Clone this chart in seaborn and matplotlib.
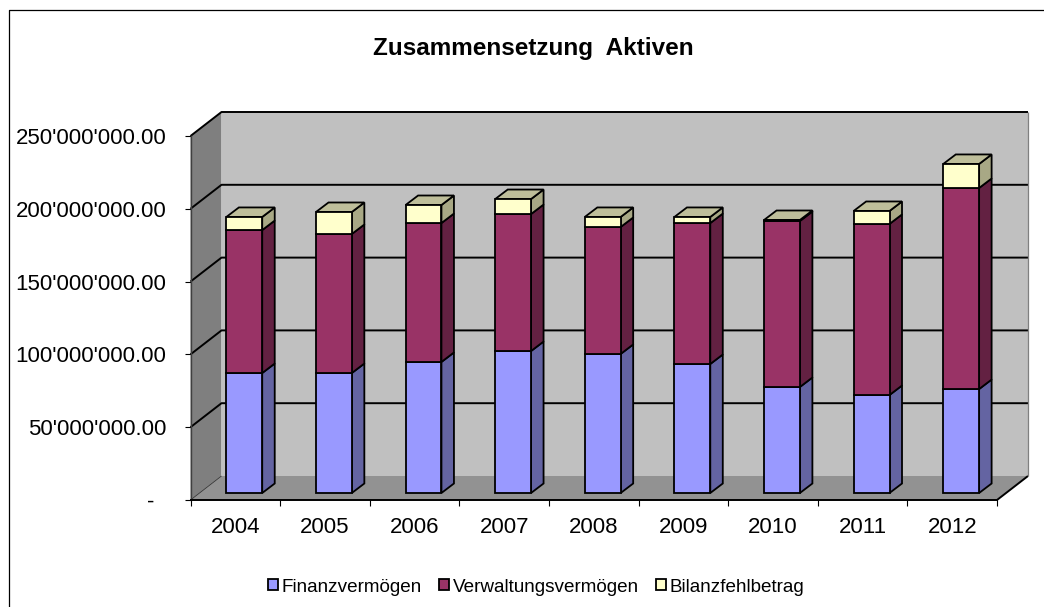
import numpy as np
import matplotlib
matplotlib.use('Agg')
import matplotlib.pyplot as plt
import seaborn as sns
from matplotlib.lines import Line2D
from matplotlib.patches import Polygon
from matplotlib.ticker import FixedLocator
from matplotlib.transforms import Affine2D, IdentityTransform

# values in CHF
years = ['2004', '2005', '2006', '2007', '2008', '2009', '2010', '2011', '2012']
finanz = [82.4e6, 82.4e6, 90.0e6, 97.5e6, 95.5e6, 88.6e6, 72.8e6, 67.3e6, 71.4e6]
verwaltung = [98.2e6, 95.5e6, 95.4e6, 94.1e6, 87.2e6, 96.8e6, 114.0e6, 117.5e6, 138.1e6]
bilanz = [9.0e6, 15.1e6, 12.4e6, 10.3e6, 6.9e6, 4.2e6, 0.7e6, 8.9e6, 16.5e6]
series_names = ['Finanzvermögen', 'Verwaltungsvermögen', 'Bilanzfehlbetrag']
y_ticks = [0, 50e6, 100e6, 150e6, 200e6, 250e6]
y_labels = ['-  ', "50'000'000.00", "100'000'000.00", "150'000'000.00", "200'000'000.00", "250'000'000.00"]

front_colors = ['#9999FF', '#993366', '#FFFFCC']
side_colors = ['#6464A2', '#632142', '#A8A885']
top_color = '#BEBE9A'

W, H = 1044, 607
EDGE = 1.3
sns.set_style('white')
plt.rcParams['font.family'] = ['Liberation Sans', 'DejaVu Sans']

fig = plt.figure(figsize=(W / 100, H / 100), dpi=100)
ax = fig.add_axes([190.5 / W, 1 - 500 / H, (997 - 190.5) / W, (500 - 136) / H])
ax.patch.set_visible(False)

# stacked front faces
bottom = np.zeros(len(years))
layers = []
for name, vals, col in zip(series_names, [finanz, verwaltung, bilanz], front_colors):
    vals = np.array(vals)
    before = len(ax.patches)
    sns.barplot(x=years, y=vals, bottom=bottom, color=col, saturation=1, width=0.4,
                errorbar=None, edgecolor='black', linewidth=EDGE, label=name, ax=ax)
    layers.append(ax.patches[before:])
    bottom = bottom + vals

ax.set_xlim(-0.5, 8.5)
ax.set_ylim(0, 250e6)

# pseudo 3D: offsets in pixels
wall_dx, wall_dy = 31, 24
bar_dx, bar_dy = 9, 7
side_dx, side_dy = 12.5, 9.5


def px(x, y, dx=0, dy=0):
    p = ax.transData.transform((x, y))
    return (p[0] + dx, p[1] + dy)


def poly(points, color, z, edge='none', lw=0):
    ax.add_patch(Polygon(points, closed=True, facecolor=color, edgecolor=edge, linewidth=lw,
                         transform=IdentityTransform(), clip_on=False, zorder=z))


def line(points, color='black', lw=1.1, z=0.6):
    xs, ys = zip(*points)
    ax.add_line(Line2D(xs, ys, color=color, lw=lw, transform=IdentityTransform(),
                       clip_on=False, zorder=z, solid_capstyle='butt'))


x0, x1 = ax.get_xlim()
y0, y1 = ax.get_ylim()

# walls and floor
poly([px(x0, y0, wall_dx, wall_dy), px(x1, y0, wall_dx, wall_dy),
      px(x1, y1, wall_dx, wall_dy), px(x0, y1, wall_dx, wall_dy)], '#C0C0C0', 0.3)
poly([px(x0, y0), px(x0, y1), px(x0, y1, wall_dx, wall_dy), px(x0, y0, wall_dx, wall_dy)], '#7F7F7F', 0.4)
poly([px(x0, y0), px(x1, y0), px(x1, y0, wall_dx, wall_dy), px(x0, y0, wall_dx, wall_dy)], '#929292', 0.4)

for t in y_ticks[1:]:
    line([px(x0, t), px(x0, t, wall_dx, wall_dy), px(x1, t, wall_dx, wall_dy)], lw=1.4)
line([px(x0, y0), px(x0, y0, wall_dx, wall_dy)], color='#222222', lw=0.5)
line([px(x1, y0), px(x1, y0, wall_dx, wall_dy)], lw=1.4)
line([px(x1, y0, wall_dx, wall_dy), px(x1, y1, wall_dx, wall_dy)], color='#808080', lw=0.9)

# bar sides and tops
shift = ax.transData + Affine2D().translate(bar_dx, bar_dy)
for i, bars in enumerate(layers):
    for b in bars:
        left, right = b.get_x(), b.get_x() + b.get_width()
        lo, hi = b.get_y(), b.get_y() + b.get_height()
        b.set_transform(shift)
        b.set_clip_on(False)
        b.set_zorder(3)
        poly([px(right, lo, bar_dx, bar_dy), px(right, hi, bar_dx, bar_dy),
              px(right, hi, bar_dx + side_dx, bar_dy + side_dy),
              px(right, lo, bar_dx + side_dx, bar_dy + side_dy)],
             side_colors[i], 2, edge='black', lw=EDGE)
        if i == len(layers) - 1:
            poly([px(left, hi, bar_dx, bar_dy), px(right, hi, bar_dx, bar_dy),
                  px(right, hi, bar_dx + side_dx, bar_dy + side_dy),
                  px(left, hi, bar_dx + side_dx, bar_dy + side_dy)],
                 top_color, 2, edge='black', lw=EDGE)

# axes
sns.despine(ax=ax)
ax.spines['left'].set_color('#404040')
ax.spines['left'].set_linewidth(1)
ax.spines['left'].set_zorder(0.7)
ax.spines['bottom'].set_color('black')
ax.spines['bottom'].set_linewidth(1.4)
ax.spines['bottom'].set_zorder(0.7)

ax.set_yticks(y_ticks)
ax.set_yticklabels(y_labels)
ax.xaxis.set_minor_locator(FixedLocator(np.arange(-0.5, 9)))
ax.tick_params(axis='x', which='major', length=0, pad=12.5, labelsize=16, labelcolor='black')
ax.tick_params(axis='x', which='minor', length=4.3, width=0.8, color='black', bottom=True)
ax.tick_params(axis='y', which='major', length=4.3, width=0.8, color='black', left=True,
               pad=13, labelsize=16, labelcolor='black')

handles, labels = ax.get_legend_handles_labels()
if ax.get_legend() is not None:
    ax.get_legend().remove()
fig.legend(handles, labels, loc='center', bbox_to_anchor=(536 / W, 1 - 587 / H), ncol=3, frameon=False,
           fontsize=13.6, handlelength=0.53, handleheight=0.53, handletextpad=0.2,
           columnspacing=0.9, borderpad=0, labelcolor='black')

fig.text(533 / W, 1 - 48 / H, 'Zusammensetzung  Aktiven', ha='center', va='center',
         fontsize=17.5, fontweight='bold', color='black')

# chart frame, cut at the right and bottom of the picture
fig.add_artist(Line2D([8.5 / W, 8.5 / W, 1], [0, 1 - 9.5 / H, 1 - 9.5 / H], color='black', lw=0.9))

fig.savefig('out.png', dpi=100)
